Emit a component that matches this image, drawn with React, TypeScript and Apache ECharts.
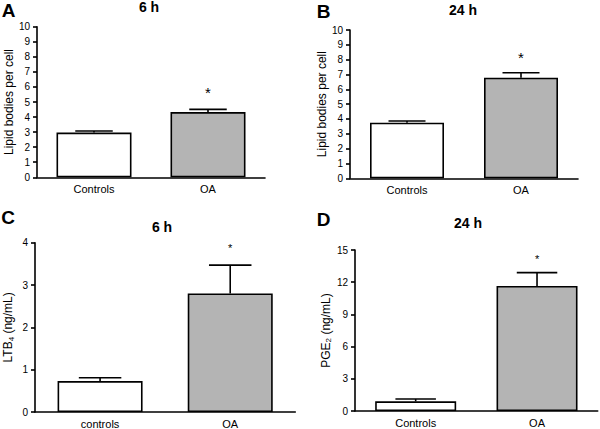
import React, { useEffect, useRef } from "react";
import * as echarts from "echarts";

const catsAB = ["Controls", "OA"];
const catsC = ["controls", "OA"];
const catsD = ["Controls", "OA"];

const meanA = [2.97, 4.33];
const semA = [0.1, 0.18];
const meanB = [3.75, 6.78];
const semB = [0.11, 0.34];
const meanC = [0.73, 2.8];
const semC = [0.08, 0.67];
const meanD = [0.9, 11.65];
const semD = [0.22, 1.24];
const significant = [0, 1];

const titles = ["6 h", "24 h", "6 h", "24 h"];
const letters = ["A", "B", "C", "D"];

const FONT = "'Liberation Sans', Arial, Helvetica, sans-serif";

export default function App() {
  const ref = useRef<HTMLDivElement>(null);
  useEffect(() => {
    if (!ref.current) return;
    const chart = echarts.init(ref.current, null, { renderer: "svg" });

    const panels = [
      { cats: catsAB, mean: meanA, sem: semA, grid: { left: 37, top: 26.7, width: 228, height: 150.6 }, max: 10, interval: 1, name: "Lipid bodies per cell", gap: 22, bw: 75, star: 15, starOff: 17 },
      { cats: catsAB, mean: meanB, sem: semB, grid: { left: 350, top: 30, width: 228, height: 148.3 }, max: 10, interval: 1, name: "Lipid bodies per cell", gap: 18, bw: 74, star: 15, starOff: 15 },
      { cats: catsC, mean: meanC, sem: semC, grid: { left: 33.3, top: 242.7, width: 262, height: 169.3 }, max: 4, interval: 1, name: "{a|LTB}{s|4}{a| (ng/mL)}", gap: 20, bw: 85, star: 11, starOff: 17 },
      { cats: catsD, mean: meanD, sem: semD, grid: { left: 355, top: 250, width: 242.7, height: 161 }, max: 15, interval: 3, name: "{a|PGE}{s|2}{a| (ng/mL)}", gap: 21, bw: 81, star: 11, starOff: 14 },
    ];

    const titlePos = [
      [149, 7], [463, 10], [162, 226.7], [468, 223],
    ];
    const letterPos = [
      [8.5, 10.5], [323.5, 11], [8, 217], [323.5, 219],
    ];

    const series: any[] = [];
    panels.forEach((p, i) => {
      series.push({
        type: "bar",
        xAxisIndex: i,
        yAxisIndex: i,
        barWidth: p.bw,
        data: p.mean.map((v, j) => ({
          value: v,
          itemStyle: { color: j === 0 ? "#ffffff" : "#b4b4b4", borderColor: "#000", borderWidth: 1.6 },
        })),
        z: 2,
      });
      const bw = p.bw;
      const starSize = p.star;
      const starOff = p.starOff;
      series.push({
        type: "custom",
        xAxisIndex: i,
        yAxisIndex: i,
        z: 3,
        data: p.mean.map((v, j) => [j, v, v + p.sem[j], significant[j]]),
        renderItem: (params: any, api: any) => {
          const x = api.value(0);
          const m = api.value(1);
          const u = api.value(2);
          const s = api.value(3);
          const base = api.coord([x, m]);
          const top = api.coord([x, u]);
          const half = bw / 4;
          const children: any[] = [
            { type: "line", shape: { x1: base[0], y1: base[1], x2: top[0], y2: top[1] }, style: { stroke: "#000", lineWidth: 1.6 } },
            { type: "line", shape: { x1: top[0] - half, y1: top[1], x2: top[0] + half, y2: top[1] }, style: { stroke: "#000", lineWidth: 1.6 } },
          ];
          if (s) {
            children.push({
              type: "text",
              x: top[0],
              y: top[1] - starOff,
              style: { text: "*", fontSize: starSize, fontFamily: FONT, fill: "#000", align: "center", verticalAlign: "middle" },
            });
          }
          return { type: "group", children };
        },
      });
    });

    const graphic: any[] = [];
    titles.forEach((t, i) => {
      graphic.push({
        type: "text",
        x: titlePos[i][0],
        y: titlePos[i][1],
        style: { text: t, fontSize: 14, fontWeight: "bold", fontFamily: FONT, fill: "#000", align: "center", verticalAlign: "middle" },
      });
      graphic.push({
        type: "text",
        x: letterPos[i][0],
        y: letterPos[i][1],
        style: { text: letters[i], fontSize: 19, fontWeight: "bold", fontFamily: FONT, fill: "#000", align: "center", verticalAlign: "middle" },
      });
    });

    chart.setOption({
      animation: false,
      backgroundColor: "#fff",
      grid: panels.map((p) => ({ ...p.grid, containLabel: false })),
      xAxis: panels.map((p, i) => ({
        type: "category",
        gridIndex: i,
        data: p.cats,
        axisLine: { lineStyle: { color: "#000", width: 1.6 } },
        axisTick: { show: false },
        axisLabel: { color: "#000", fontSize: 11, fontFamily: FONT, margin: 6 },
      })),
      yAxis: panels.map((p, i) => ({
        type: "value",
        gridIndex: i,
        min: 0,
        max: p.max,
        interval: p.interval,
        name: p.name,
        nameLocation: "middle",
        nameRotate: 90,
        nameGap: p.gap,
        nameTextStyle: {
          color: "#000",
          fontSize: 12,
          fontFamily: FONT,
          rich: {
            a: { fontSize: 12, fontFamily: FONT, color: "#000", lineHeight: 14 },
            s: { fontSize: 8, fontFamily: FONT, color: "#000", lineHeight: 14, padding: [6, 0, 0, 0] },
          },
        },
        axisLine: { show: true, lineStyle: { color: "#000", width: 1.6 } },
        axisTick: { show: true, length: 4, lineStyle: { color: "#000", width: 1.6 } },
        axisLabel: { color: "#000", fontSize: 10, fontFamily: FONT, margin: 7 },
        splitLine: { show: false },
      })),
      series,
      graphic,
    });

    return () => chart.dispose();
  }, []);

  return (
    <div
      ref={ref}
      style={{ position: "fixed", left: 0, top: 0, width: 600, height: 429, background: "#fff" }}
    />
  );
}
